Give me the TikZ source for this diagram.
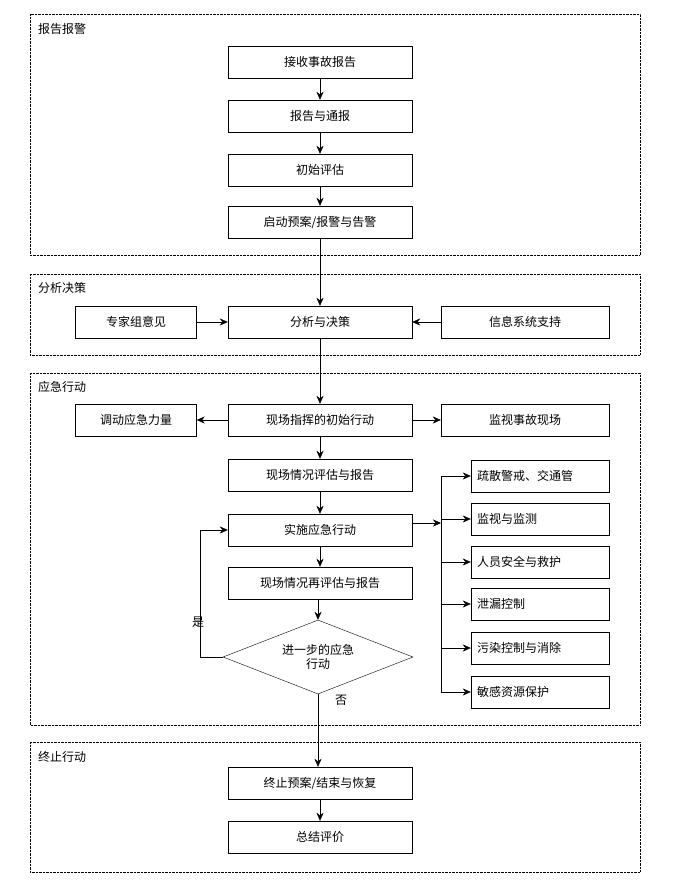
\documentclass[tikz,border=0pt]{standalone}
\usepackage{fontspec}
\setmainfont{Noto Sans CJK SC}
\usepackage{tikz}
\usetikzlibrary{arrows.meta,positioning,shapes.geometric}

\begin{document}
\begin{tikzpicture}[x=1pt,y=-1pt,->,>={Stealth[length=8pt,width=7pt]},font=\fontsize{12}{14}\selectfont,
  stepbox/.style={rectangle,draw,minimum width=184pt,minimum height=32pt,inner sep=0pt},
  sidebox/.style={rectangle,draw,minimum width=121pt,minimum height=32pt,inner sep=0pt},
  listbox/.style={rectangle,draw,minimum width=138pt,minimum height=32pt,inner sep=0pt,
    text width=126pt,align=left},
  stagebox/.style={draw,densely dotted,-},
  stagelabel/.style={anchor=west,inner sep=0pt}]

\useasboundingbox (0,0) rectangle (680,893);

% stages
\draw[stagebox] (30,14) rectangle (640,255);
\node[stagelabel] (l1) at (38,29) {报告报警};
\draw[stagebox] (30,274) rectangle (640,355);
\node[stagelabel] (l2) at (38,288) {分析决策};
\draw[stagebox] (30,373) rectangle (640,725);
\node[stagelabel] (l3) at (38,387) {应急行动};
\draw[stagebox] (30,742) rectangle (640,872);
\node[stagelabel] (l4) at (38,757) {终止行动};

% main column
\node[stepbox] (0) at (320,62) {接收事故报告};
\node[stepbox] (1) at (320,116) {报告与通报};
\node[stepbox] (2) at (320,170) {初始评估};
\node[stepbox] (3) at (320,222) {启动预案/报警与告警};
\node[stepbox] (4) at (320,322) {分析与决策};
\node[sidebox] (4a) at (136,322) {专家组意见};
\node[rectangle,draw,minimum width=168pt,minimum height=32pt] (4b) at (525,322) {信息系统支持};
\node[stepbox] (5) at (320,420) {现场指挥的初始行动};
\node[sidebox] (5a) at (136,420) {调动应急力量};
\node[rectangle,draw,minimum width=168pt,minimum height=32pt] (5b) at (525,420) {监视事故现场};
\node[stepbox] (6) at (320,475) {现场情况评估与报告};
\node[stepbox] (7) at (320,530) {实施应急行动};
\node[stepbox] (8) at (320,583) {现场情况再评估与报告};
\node[diamond,draw,aspect=2.6,minimum width=190pt,minimum height=74pt,inner sep=0pt,align=center] (9) at (318,657) {进一步的应急\\行动};
\node[stepbox] (10) at (320,783) {终止预案/结束与恢复};
\node[stepbox] (11) at (320,837) {总结评价};

% action list
\node[listbox] (r1) at (540,476) {疏散警戒、交通管};
\node[listbox] (r2) at (540,519) {监视与监测};
\node[listbox] (r3) at (540,562) {人员安全与救护};
\node[listbox] (r4) at (540,604) {泄漏控制};
\node[listbox] (r5) at (540,648) {污染控制与消除};
\node[listbox] (r6) at (540,692) {敏感资源保护};
\coordinate (rt) at (441,476);
\coordinate (rb) at (441,692);
\coordinate (rm) at (441,523);

\node (yes) at (198,622) {是};
\node (no) at (341,700) {否};

\draw (0) to (1);
\draw (1) to (2);
\draw (2) to (3);
\draw (3) to (4);
\draw (4a) to (4);
\draw (4b) to (4);
\draw (4) to (5);
\draw (5) to (5a);
\draw (5) to (5b);
\draw (5) to (6);
\draw (6) to (7);
\draw (7) to (8);
\draw (8.south -| 9.north) to (9.north);
\draw (9.south) -- (9.south |- 10.north);
\draw (10) to (11);
\draw (9.west) -- (200,657) |- (7.west);
\draw (7.east |- rm) to (rm);
\draw[-] (rt) -- (rb);
\foreach \r in {r1,r2,r3,r4,r5,r6}
  \draw (rt |- \r) to (\r.west);
\end{tikzpicture}
\end{document}
